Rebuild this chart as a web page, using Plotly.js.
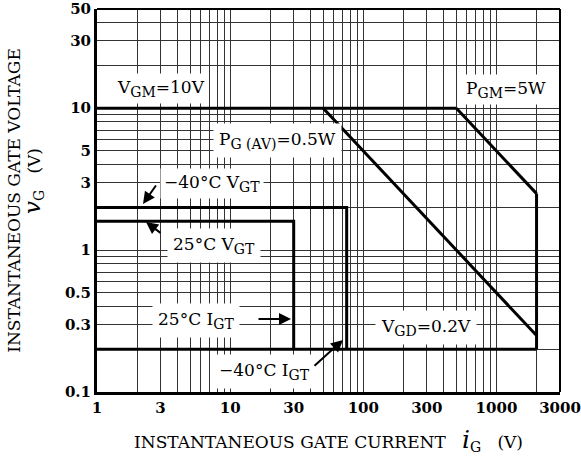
<!DOCTYPE html>
<html>
<head>
<meta charset="utf-8">
<script src="https://cdn.plot.ly/plotly-3.0.1.min.js"></script>
<style>html,body{margin:0;padding:0;background:#fff;}#chart{width:581px;height:459px;}</style>
</head>
<body>
<div id="chart"></div>
<script>
// Boundary curves (x: gate current, y: gate voltage)
const vgmX = [1, 500];            const vgmY = [10, 10];          // V_GM = 10 V
const pgmX = [500, 2000];         const pgmY = [10, 2.5];         // P_GM = 5 W
const pgavX = [50, 2000];         const pgavY = [10, 0.25];       // P_G(AV) = 0.5 W
const rightX = [2000, 2000];      const rightY = [2.5, 0.2];      // max current
const vgdX = [1, 2000];           const vgdY = [0.2, 0.2];        // V_GD = 0.2 V
const m40X = [1, 75, 75];         const m40Y = [2, 2, 0.2];       // -40°C V_GT / I_GT
const p25X = [1, 30, 30];         const p25Y = [1.6, 1.6, 0.2];   // 25°C V_GT / I_GT

// Grid and tick labels
const xGrid = [1,2,3,4,5,6,7,8,9,10,20,30,40,50,60,70,80,90,100,200,300,400,500,600,700,800,900,1000,2000,3000];
const xLabels = [1,3,10,30,100,300,1000,3000];
const yGrid = [0.1,0.2,0.3,0.4,0.5,0.6,0.7,0.8,0.9,1,2,3,4,5,6,7,8,9,10,20,30,40,50];
const yLabels = [0.1,0.3,0.5,1,3,5,10,30,50];

const FONT = 'DejaVu Serif';
const lineStyle = {color: '#000', width: 3};
function tr(x, y) {
  return {x: x, y: y, type: 'scatter', mode: 'lines', line: lineStyle, hoverinfo: 'skip', showlegend: false};
}
const traces = [tr(vgmX, vgmY), tr(pgmX, pgmY), tr(pgavX, pgavY), tr(rightX, rightY),
                tr(vgdX, vgdY), tr(m40X, m40Y), tr(p25X, p25Y)];

const L = 97, R = 21, T = 9, B = 67, W = 581, H = 459;
const pw = W - L - R, ph = H - T - B;
function px(x) { return (x - L) / pw; }
function py(y) { return (H - B - y) / ph; }
function sb(t) { return '<sub><span style="font-size:14px">' + t + '</span></sub>'; }

function label(text, cx, cy, pad) {
  return {text: text, xref: 'paper', yref: 'paper', x: px(cx), y: py(cy),
          xanchor: 'center', yanchor: 'middle', showarrow: false,
          bgcolor: '#fff', borderpad: pad === undefined ? 5 : pad, font: {family: FONT, size: 17, color: '#000'}};
}
function arrow(tx, ty, sx, sy) {
  return {text: '', xref: 'paper', yref: 'paper', x: px(tx), y: py(ty),
          ax: sx - tx, ay: sy - ty, showarrow: true, arrowhead: 2, arrowsize: 1.2,
          arrowwidth: 2, arrowcolor: '#000'};
}

const annotations = [
  label('V' + sb('GM') + '=10V', 161, 88, 3),
  label('P' + sb('GM') + '=5W', 506, 89, 3),
  label('P' + sb('G (AV)') + '=0.5W', 277, 141),
  label('\u221240°C V' + sb('GT'), 212, 184, 3),
  label('25°C V' + sb('GT'), 214, 245),
  label('25°C I' + sb('GT'), 196, 320),
  label('\u221240°C I' + sb('GT'), 264, 371),
  label('V' + sb('GD') + '=0.2V', 426, 327),
  arrow(143, 204, 157, 184),
  arrow(146, 222, 162, 234),
  arrow(291, 319, 257, 319),
  arrow(343, 340, 313, 367),
  {text: '<i><span style="font-size:23px">v</span></i><sub><span style="font-size:14px">G</span></sub>   (V)', xref: 'paper', yref: 'paper',
   x: px(33), y: py(181), xanchor: 'center', yanchor: 'middle', textangle: -90, showarrow: false,
   font: {family: FONT, size: 17, color: '#000'}}
];

const layout = {
  width: W, height: H,
  margin: {l: L, r: R, t: T, b: B, pad: 0},
  paper_bgcolor: '#fff', plot_bgcolor: '#fff',
  showlegend: false,
  xaxis: {
    type: 'log', range: [0, Math.log10(3000)],
    tickmode: 'array', tickvals: xLabels, ticktext: xLabels.map(String),
    showgrid: true, gridcolor: '#333', gridwidth: 1,
    minor: {tickmode: 'array', tickvals: xGrid, showgrid: true, gridcolor: '#333', gridwidth: 1, ticks: ''},
    showline: true, linecolor: '#000', linewidth: 3, mirror: false,
    ticks: '', zeroline: false,
    tickfont: {family: FONT, size: 15, color: '#000', weight: 'bold'},
    title: {text: 'INSTANTANEOUS GATE CURRENT   <i><span style="font-size:25px">i</span></i><sub><span style="font-size:14px">G</span></sub>   (V)',
            font: {family: FONT, size: 17, color: '#000'}, standoff: 21}
  },
  yaxis: {
    type: 'log', range: [-1, Math.log10(50)],
    tickmode: 'array', tickvals: yLabels, ticktext: yLabels.map(String),
    showgrid: true, gridcolor: '#333', gridwidth: 1,
    minor: {tickmode: 'array', tickvals: yGrid, showgrid: true, gridcolor: '#333', gridwidth: 1, ticks: ''},
    showline: true, linecolor: '#000', linewidth: 3, mirror: false,
    ticks: '', zeroline: false,
    tickfont: {family: FONT, size: 15, color: '#000', weight: 'bold'},
    title: {text: 'INSTANTANEOUS GATE VOLTAGE', font: {family: FONT, size: 17, color: '#000'}, standoff: 40}
  },
  shapes: [
    {type: 'line', xref: 'paper', yref: 'paper', x0: 0, x1: 1, y0: 1, y1: 1, line: {color: '#000', width: 2}},
    {type: 'line', xref: 'paper', yref: 'paper', x0: 1, x1: 1, y0: 0, y1: 1, line: {color: '#000', width: 2}}
  ],
  annotations: annotations
};

Plotly.newPlot('chart', traces, layout, {staticPlot: true, displayModeBar: false});
</script>
</body>
</html>
